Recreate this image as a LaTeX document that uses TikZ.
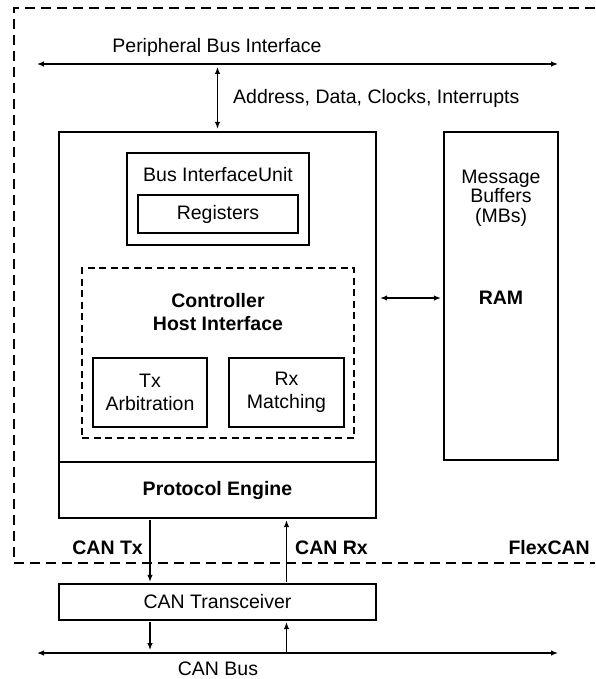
\documentclass[tikz,border=0pt]{standalone}
\usepackage{fontspec}
\setmainfont{Liberation Sans}
\usetikzlibrary{positioning,arrows.meta}

\tikzset{
  blk/.style={draw, line width=2.4pt, inner sep=0pt, align=center},
  dashblk/.style={draw, line width=1.2pt, dash pattern=on 7pt off 4.5pt, inner sep=0pt},
  txt/.style={inner sep=0pt, align=center},
  bld/.style={inner sep=0pt, align=center, font=\fontsize{19.5}{23}\selectfont\bfseries},
  lnk/.style={line width=1.2pt, {Latex[length=7pt,width=5.5pt]}-{Latex[length=7pt,width=5.5pt]}},
  one/.style={line width=1.2pt, -{Latex[length=7pt,width=5.5pt]}},
}

\begin{document}
\begin{tikzpicture}[x=1pt, y=-1pt, font=\fontsize{19.5}{23}\selectfont]
\useasboundingbox (0,0) rectangle (595,679);

%FlexCAN frame
\draw[line width=1.3pt, dash pattern=on 10pt off 6pt] (595,8) -| (14,563) -- (595,563);

%Peripheral bus
\coordinate (pbl) at (37,64); \coordinate (pbr) at (558,64);
\node[txt] (pbi) at (217,47) {Peripheral Bus Interface};

%Main block
\node[blk, minimum width=317pt, minimum height=330pt] (main) at (217.5,297) {};
\node[blk, minimum width=317pt, minimum height=56pt] (pe) at (217.5,490) {\bfseries Protocol Engine};

\node[blk, minimum width=182pt, minimum height=92pt] (biu) at (218,199) {};
\node[txt, below=15pt of biu.north] (biulbl) {Bus InterfaceUnit};
\node[blk, minimum width=160pt, minimum height=38pt] (reg) at (218,214) {Registers};

\node[dashblk, minimum width=272pt, minimum height=170pt] (chi) at (218,353) {};
\node[bld] (chilbl) at (218,312) {Controller\\Host Interface};
\node[blk, minimum width=114pt, minimum height=69pt] (tx) at (150,392.5) {Tx\\Arbitration};
\node[blk, minimum width=115pt, minimum height=69pt] (rx) at (286.5,392.5) {Rx\\Matching};

%RAM
\node[blk, minimum width=114pt, minimum height=328pt] (ram) at (501,296) {};
\node[txt, font=\fontsize{19.5}{19.5}\selectfont] (mb) at (501,198) {Message\\Buffers\\(MBs)};
\node[bld] (ramlbl) at (501,298) {RAM};

%Transceiver and CAN bus
\node[blk, minimum width=317pt, minimum height=36pt] (trx) at (217.5,602) {CAN Transceiver};
\coordinate (cbl) at (37,653); \coordinate (cbr) at (558,653);
\node[txt] (canbus) at (218,668.5) {CAN Bus};

\node[txt, anchor=west] (adci) at (233,98) {Address, Data, Clocks, Interrupts};
\node[bld, anchor=east] (cantx) at (143,548) {CAN Tx};
\node[bld, anchor=west] (canrx) at (295,548) {CAN Rx};
\node[bld, anchor=east] (flex) at (590,548) {FlexCAN};

%Arrows
\draw[lnk] (pbl) -- (pbr);
\draw[lnk, shorten <=3pt, shorten >=2pt] (main.north |- pbl) -- (main.north);
\draw[lnk, shorten <=3pt, shorten >=2pt] (main.east |- ramlbl) -- (ram.west |- ramlbl);
\draw[one, shorten <=1pt, shorten >=1pt] (pe.south -| tx) -- (trx.north -| tx);
\draw[one, shorten <=1pt, shorten >=1pt] (trx.north -| rx) -- (pe.south -| rx);
\draw[one, shorten <=1pt, shorten >=3pt] (trx.south -| tx) -- (cbl -| tx);
\draw[one, shorten >=1pt] (cbl -| rx) -- (trx.south -| rx);
\draw[lnk] (cbl) -- (cbr);

\end{tikzpicture}
\end{document}
